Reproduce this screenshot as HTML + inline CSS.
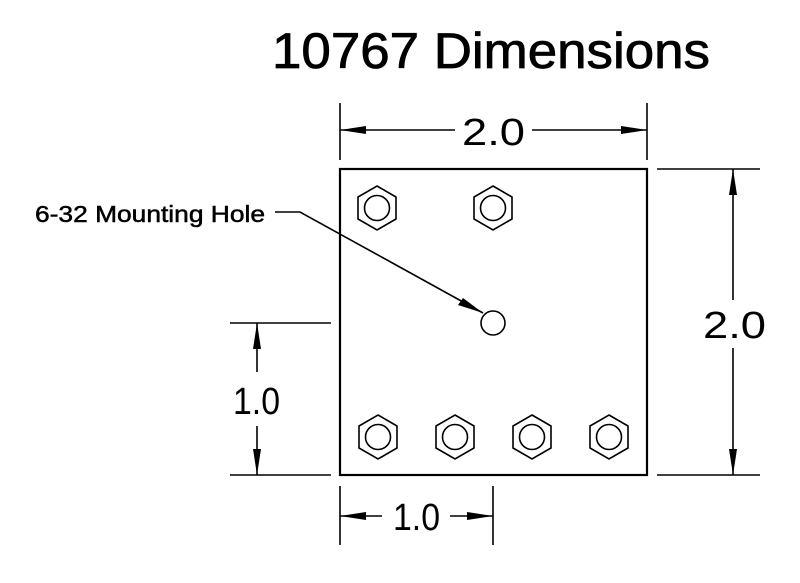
<!DOCTYPE html>
<html><head><style>html,body{margin:0;padding:0;background:#fff}</style></head>
<body>
<svg width="800" height="578" viewBox="0 0 800 578" xmlns="http://www.w3.org/2000/svg">
<defs>
<g id="hex"><polygon points="0,-22 19,-11 19,11 0,22 -19,11 -19,-11" fill="none" stroke="#000" stroke-width="1.6"/><circle r="12.5" fill="none" stroke="#000" stroke-width="1.6"/></g>
</defs>
<text x="272" y="68" font-family="Liberation Sans, sans-serif" font-size="50" stroke="#000" stroke-width="0.8" textLength="438" lengthAdjust="spacingAndGlyphs">10767 Dimensions</text>
<text x="35" y="222" font-family="Liberation Sans, sans-serif" font-size="23" stroke="#000" stroke-width="0.5" textLength="230" lengthAdjust="spacingAndGlyphs">6-32 Mounting Hole</text>
<g stroke="#000" fill="none">
<rect x="340" y="169" width="307" height="306" stroke-width="2.2"/>
<line x1="340" y1="103" x2="340" y2="160" stroke-width="1.6"/>
<line x1="647" y1="103" x2="647" y2="160" stroke-width="1.6"/>
<line x1="340" y1="130" x2="455" y2="130" stroke-width="1.6"/>
<line x1="532" y1="130" x2="647" y2="130" stroke-width="1.6"/>
<line x1="657" y1="169" x2="760" y2="169" stroke-width="1.6"/>
<line x1="657" y1="475" x2="760" y2="475" stroke-width="1.6"/>
<line x1="733" y1="169" x2="733" y2="300" stroke-width="1.6"/>
<line x1="733" y1="348" x2="733" y2="475" stroke-width="1.6"/>
<line x1="230" y1="323" x2="331" y2="323" stroke-width="1.6"/>
<line x1="230" y1="475" x2="331" y2="475" stroke-width="1.6"/>
<line x1="257" y1="323" x2="257" y2="372" stroke-width="1.6"/>
<line x1="257" y1="426" x2="257" y2="475" stroke-width="1.6"/>
<line x1="340" y1="486" x2="340" y2="545" stroke-width="1.6"/>
<line x1="493" y1="486" x2="493" y2="545" stroke-width="1.6"/>
<line x1="340" y1="516" x2="382" y2="516" stroke-width="1.6"/>
<line x1="450" y1="516" x2="493" y2="516" stroke-width="1.6"/>
<polyline points="275,212 300,212 483,313" stroke-width="1.6"/>
<circle cx="493" cy="323" r="12" stroke-width="1.6"/>
</g>
<g fill="#000">
<polygon points="340,130 366,126 366,134"/>
<polygon points="647,130 621,126 621,134"/>
<polygon points="733,169 729,195 737,195"/>
<polygon points="733,475 729,449 737,449"/>
<polygon points="257,323 253,349 261,349"/>
<polygon points="257,475 253,449 261,449"/>
<polygon points="340,516 366,512 366,520"/>
<polygon points="493,516 467,512 467,520"/>
<polygon points="483,313 458,305 463,298"/>
</g>
<g font-family="Liberation Sans, sans-serif" font-size="38">
<text x="462" y="145" textLength="63" lengthAdjust="spacingAndGlyphs">2.0</text>
<text x="703" y="338" textLength="63" lengthAdjust="spacingAndGlyphs">2.0</text>
<text x="233" y="414" textLength="47" lengthAdjust="spacingAndGlyphs">1.0</text>
<text x="393" y="530" textLength="47" lengthAdjust="spacingAndGlyphs">1.0</text>
</g>
<use href="#hex" x="377" y="208"/>
<use href="#hex" x="493" y="208"/>
<use href="#hex" x="378" y="437"/>
<use href="#hex" x="455" y="437"/>
<use href="#hex" x="532" y="437"/>
<use href="#hex" x="609" y="437"/>
</svg>
</body></html>
